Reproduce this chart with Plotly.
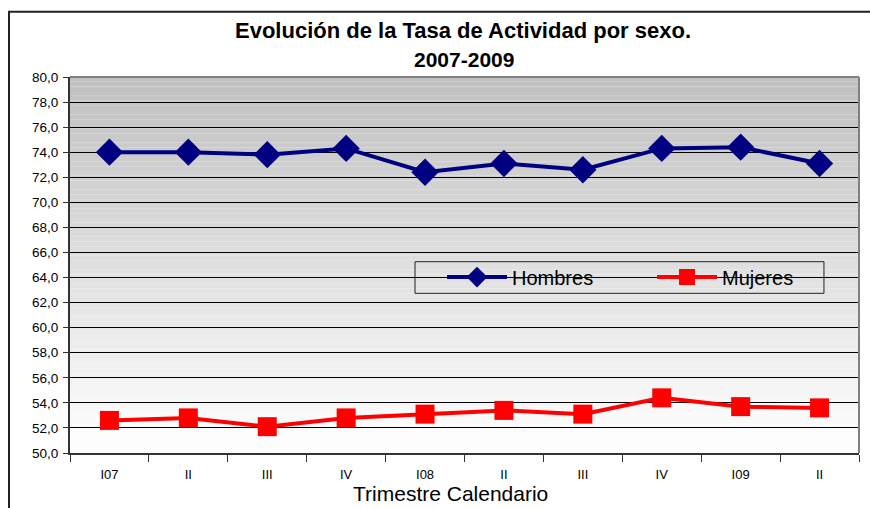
import plotly.graph_objects as go

categories = ["I07", "II", "III", "IV", "I08", "II ", "III ", "IV ", "I09", "II  "]
tick_labels = ["I07", "II", "III", "IV", "I08", "II", "III", "IV", "I09", "II"]
hombres = [74.0, 74.0, 73.8, 74.3, 72.4, 73.1, 72.6, 74.3, 74.4, 73.1]
mujeres = [52.6, 52.8, 52.1, 52.8, 53.1, 53.4, 53.1, 54.4, 53.7, 53.6]
title_line1 = "Evolución de la Tasa de Actividad por sexo."
title_line2 = "2007-2009"
x_title = "Trimestre Calendario"

FONT = "Liberation Sans, Arial, sans-serif"

fig = go.Figure()
fig.add_trace(go.Scatter(
    x=categories, y=hombres, name="Hombres", mode="lines+markers",
    line=dict(color="#000080", width=4),
    marker=dict(symbol="diamond", size=21, color="#000080"),
))
fig.add_trace(go.Scatter(
    x=categories, y=mujeres, name="Mujeres", mode="lines+markers",
    line=dict(color="#ff0000", width=4),
    marker=dict(symbol="square", size=19, color="#ff0000"),
))

# gradient plot background (gray at top -> white at bottom)
shapes = []
n = 80
for i in range(n):
    t = i / (n - 1)
    c = int(round(192 + (255 - 192) * t))
    shapes.append(dict(
        type="rect", xref="x domain", yref="y domain",
        x0=0, x1=1, y0=1 - (i + 1) / n, y1=1 - i / n,
        fillcolor=f"rgb({c},{c},{c})", line=dict(width=0), layer="below",
    ))
# plot area border (top/right gray)
shapes.append(dict(type="line", xref="x domain", yref="y domain",
                   x0=0, x1=1, y0=1, y1=1, line=dict(color="#808080", width=2)))
shapes.append(dict(type="line", xref="x domain", yref="y domain",
                   x0=1, x1=1, y0=0, y1=1, line=dict(color="#808080", width=2)))
# legend box
shapes.append(dict(type="rect", xref="paper", yref="paper",
                   x0=0.4373, x1=0.9556, y0=0.4247, y1=0.5088,
                   line=dict(color="#222222", width=1), fillcolor="rgba(0,0,0,0)"))
# outer chart frame
shapes.append(dict(type="rect", xref="paper", yref="paper",
                   x0=-0.0773, x1=1.03, y0=-0.3, y1=1.1737,
                   line=dict(color="#222222", width=2), fillcolor="rgba(0,0,0,0)"))

annotations = [
    dict(text=f"<b>{title_line1}</b>", xref="paper", yref="paper",
         x=0.498, y=(453 - 30) / 376, xanchor="center", yanchor="middle",
         showarrow=False, font=dict(size=22, family=FONT, color="black")),
    dict(text=f"<b>{title_line2}</b>", xref="paper", yref="paper",
         x=0.499, y=(453 - 60) / 376, xanchor="center", yanchor="middle",
         showarrow=False, font=dict(size=21, family=FONT, color="black")),
    dict(text=x_title, xref="paper", yref="paper",
         x=(450 - 70) / 789, y=(453 - 493) / 376, xanchor="center", yanchor="middle",
         showarrow=False, font=dict(size=21, family=FONT, color="black")),
]

fig.update_layout(
    width=870, height=508,
    margin=dict(l=70, r=11, t=77, b=55, autoexpand=False),
    paper_bgcolor="white", plot_bgcolor="rgba(0,0,0,0)",
    separators=",.",
    font=dict(family=FONT, color="black"),
    shapes=shapes,
    annotations=annotations,
    showlegend=True,
    legend=dict(
        orientation="h", x=0.4715, xanchor="left", y=0.468, yanchor="middle",
        bgcolor="rgba(0,0,0,0)", borderwidth=0,
        font=dict(size=20, family=FONT),
        entrywidth=135, itemwidth=60,
    ),
    xaxis=dict(
        type="category", tickmode="array", tickvals=categories, ticktext=tick_labels,
        showgrid=False, showline=True, linecolor="#333333", linewidth=2,
        ticks="outside", tickson="boundaries", ticklen=7, tickcolor="#333333",
        tickfont=dict(size=13, family=FONT), ticklabelstandoff=8,
        range=[-0.5, 9.5],
    ),
    yaxis=dict(
        range=[50, 80], dtick=2, tickformat=".1f",
        showgrid=True, gridcolor="black", gridwidth=1,
        showline=True, linecolor="#333333", linewidth=2,
        ticks="outside", ticklen=5, tickcolor="#333333",
        tickfont=dict(size=13.5, family=FONT), ticklabelstandoff=2,
        zeroline=False,
    ),
)

fig.write_html(
    "out.html",
    config={"displayModeBar": False},
    post_script="document.body.style.margin='0';document.body.style.overflow='hidden';",
)
